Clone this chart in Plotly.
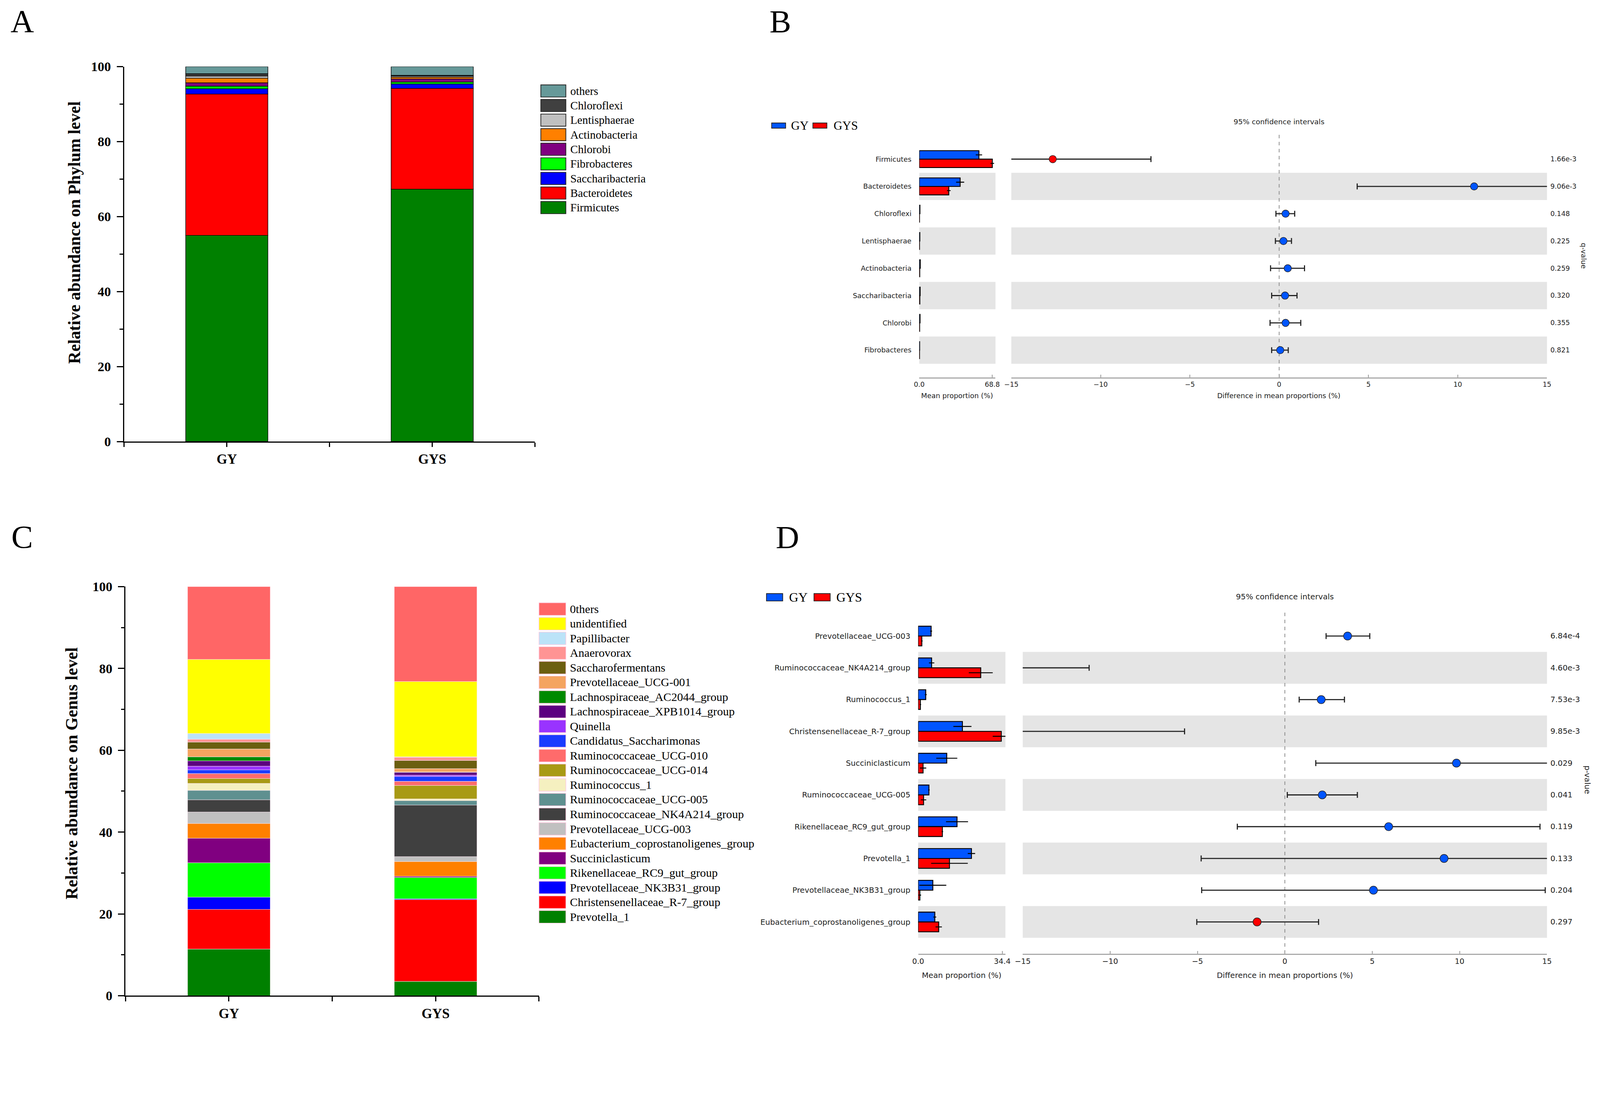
import numpy as np
import plotly.graph_objects as go

# reference picture size; the page is laid out in CSS px that come out ~6% bigger
W, H = 4346, 2800
S = 4096 / 4346
FW, FH = round(W * S) - 16, round(H * S) - 16
SERIF = "Liberation Serif"
SANS = "DejaVu Sans"
BLUE = "#0055ff"
RED = "#ff0000"

groups = ["GY", "GYS"]

# A: phylum level, bottom of the stack first
phylum_names = ["Firmicutes", "Bacteroidetes", "Saccharibacteria", "Fibrobacteres",
                "Chlorobi", "Actinobacteria", "Lentisphaerae", "Chloroflexi", "others"]
phylum_gy = [55.0, 37.7, 1.4, 0.7, 0.9, 1.2, 0.6, 0.6, 1.9]
phylum_gys = [67.3, 26.9, 1.2, 0.5, 0.8, 0.5, 0.3, 0.2, 2.3]
phylum_colors = ["#008000", "#ff0000", "#0000ff", "#00ff00", "#800080",
                 "#ff8000", "#c0c0c0", "#404040", "#669999"]

# C: genus level, bottom of the stack first
genus_names = ["Prevotella_1", "Christensenellaceae_R-7_group", "Prevotellaceae_NK3B31_group",
               "Rikenellaceae_RC9_gut_group", "Succiniclasticum", "Eubacterium_coprostanoligenes_group",
               "Prevotellaceae_UCG-003", "Ruminococcaceae_NK4A214_group", "Ruminococcaceae_UCG-005",
               "Ruminococcus_1", "Ruminococcaceae_UCG-014", "Ruminococcaceae_UCG-010",
               "Candidatus_Saccharimonas", "Quinella", "Lachnospiraceae_XPB1014_group",
               "Lachnospiraceae_AC2044_group", "Prevotellaceae_UCG-001", "Saccharofermentans",
               "Anaerovorax", "Papillibacter", "unidentified", "0thers"]
genus_gy = [11.4, 9.7, 3.0, 8.4, 6.0, 3.6, 2.8, 3.0, 2.3, 1.7, 1.2, 1.2,
            0.9, 0.9, 1.3, 1.0, 1.9, 1.7, 0.7, 1.4, 18.1, 17.8]
genus_gys = [3.5, 20.0, 0.2, 5.2, 0.3, 3.6, 1.2, 12.6, 1.1, 0.4, 3.3, 1.0,
             1.2, 0.3, 0.7, 0.1, 0.8, 2.0, 0.8, 0.1, 18.4, 23.2]
genus_colors = ["#008000", "#ff0000", "#0000ff", "#00ff00", "#800080", "#ff8000",
                "#c0c0c0", "#404040", "#5f9090", "#f5f0c0", "#a89a14", "#ff6b6b",
                "#1a3cff", "#9933ff", "#5c0080", "#008a00", "#f4a460", "#6b5f10",
                "#ff9494", "#bbe3f8", "#ffff00", "#ff6666"]

# B: STAMP test, phylum
b_taxa = ["Firmicutes", "Bacteroidetes", "Chloroflexi", "Lentisphaerae",
          "Actinobacteria", "Saccharibacteria", "Chlorobi", "Fibrobacteres"]
b_mean_gy = [56.2, 38.5, 0.6, 0.5, 0.9, 0.8, 0.7, 0.3]
b_err_gy = [3.0, 3.8, 0.1, 0.1, 0.2, 0.1, 0.1, 0.1]
b_mean_gys = [68.8, 27.8, 0.2, 0.2, 0.4, 0.5, 0.3, 0.2]
b_err_gys = [1.7, 1.7, 0.1, 0.1, 0.1, 0.1, 0.1, 0.1]
b_diff = [-12.68, 10.92, 0.36, 0.24, 0.48, 0.33, 0.36, 0.06]
b_ci_low = [-18.2, 4.37, -0.18, -0.21, -0.48, -0.42, -0.51, -0.42]
b_ci_high = [-7.18, 17.5, 0.87, 0.69, 1.42, 1.00, 1.21, 0.51]
b_qvalue = ["1.66e-3", "9.06e-3", "0.148", "0.225", "0.259", "0.320", "0.355", "0.821"]
b_mean_max = 68.8

# D: STAMP test, genus
d_taxa = ["Prevotellaceae_UCG-003", "Ruminococcaceae_NK4A214_group", "Ruminococcus_1",
          "Christensenellaceae_R-7_group", "Succiniclasticum", "Ruminococcaceae_UCG-005",
          "Rikenellaceae_RC9_gut_group", "Prevotella_1", "Prevotellaceae_NK3B31_group",
          "Eubacterium_coprostanoligenes_group"]
d_mean_gy = [5.3, 5.5, 3.1, 18.1, 11.7, 4.4, 15.9, 21.8, 6.0, 6.8]
d_err_gy = [0.4, 1.1, 0.4, 3.7, 4.3, 0.3, 4.5, 1.5, 5.5, 0.6]
d_mean_gys = [1.5, 25.6, 0.9, 34.0, 2.0, 2.2, 9.9, 12.8, 0.7, 8.4]
d_err_gys = [0.3, 4.9, 0.3, 3.5, 1.3, 1.1, 0.3, 7.5, 0.5, 1.3]
d_diff = [3.59, -20.1, 2.08, -15.9, 9.82, 2.14, 5.94, 9.11, 5.07, -1.59]
d_ci_low = [2.36, -29.0, 0.82, -26.1, 1.77, 0.14, -2.72, -4.79, -4.76, -5.04]
d_ci_high = [4.86, -11.2, 3.41, -5.74, 17.9, 4.15, 14.6, 23.0, 14.9, 1.93]
d_pvalue = ["6.84e-4", "4.60e-3", "7.53e-3", "9.85e-3", "0.029", "0.041",
            "0.119", "0.133", "0.204", "0.297"]
d_mean_max = 34.4


def z(v):
    # size in reference pixels -> css pixels
    return v * S


def px(x):
    return (x * S - 8) / FW


def py(y):
    return 1 - (y * S - 8) / FH


fig = go.Figure()
shapes = []
annotations = []


def stacked_bars(names, colors, gy, gys, xa, ya, edge, edgew):
    xpos = np.arange(len(groups))
    base = np.zeros(len(groups))
    for name, col, a, b in zip(names, colors, gy, gys):
        vals = np.array([a, b])
        fig.add_trace(go.Bar(x=xpos, y=vals, base=base.copy(), name=name, width=0.4,
                             marker=dict(color=col, line=dict(color=edge, width=z(edgew))),
                             xaxis=xa, yaxis=ya, showlegend=False))
        base += vals


def box_legend(names, colors, x0, x1, y_first, step, box_h, text_x, size, edge, edgew):
    for i, (name, col) in enumerate(zip(names, colors)):
        yc = y_first + i * step
        shapes.append(dict(type="rect", xref="paper", yref="paper", x0=px(x0), x1=px(x1),
                           y0=py(yc - box_h / 2), y1=py(yc + box_h / 2), fillcolor=col,
                           line=dict(color=edge, width=z(edgew))))
        annotations.append(dict(xref="paper", yref="paper", x=px(text_x), y=py(yc), text=name,
                                xanchor="left", yanchor="middle", showarrow=False,
                                font=dict(family=SERIF, size=z(size), color="black")))


def stamp_panel(taxa, mgy, egy, mgys, egys, diff, lo, hi, pvals, xm, xd, ya, fs, msize):
    for vals, errs, col, off in ((mgy, egy, BLUE, -0.31), (mgys, egys, RED, 0)):
        fig.add_trace(go.Bar(y=taxa, x=vals, orientation="h", width=0.31, offset=off,
                             marker=dict(color=col, line=dict(color="black", width=z(2.5))),
                             error_x=dict(type="data", array=errs, color="black",
                                          thickness=z(2.5), width=0),
                             xaxis=xm, yaxis=ya, showlegend=False))
    diff = np.array(diff)
    fig.add_trace(go.Scatter(y=taxa, x=diff, mode="markers",
                             marker=dict(size=z(msize), color=[BLUE if d > 0 else RED for d in diff],
                                         line=dict(color="#222222", width=z(1.5))),
                             error_x=dict(type="data", symmetric=False, array=np.array(hi) - diff,
                                          arrayminus=diff - np.array(lo), color="#222222",
                                          thickness=z(3), width=z(8)),
                             xaxis=xd, yaxis=ya, showlegend=False))
    for i in range(1, len(taxa), 2):
        for ax in (xm, xd):
            shapes.append(dict(type="rect", xref=ax + " domain", yref=ya, x0=0, x1=1,
                               y0=i - 0.5, y1=i + 0.5, fillcolor="#e5e5e5",
                               line=dict(width=0), layer="below"))
    shapes.append(dict(type="line", xref=xd, yref=ya + " domain", x0=0, x1=0, y0=0, y1=1,
                       line=dict(color="#888888", width=z(2), dash="dash"), layer="below"))
    for t, p in zip(taxa, pvals):
        annotations.append(dict(xref="paper", yref=ya, x=px(4209), y=t, text=p,
                                xanchor="left", yanchor="middle", showarrow=False,
                                font=dict(family=SANS, size=z(fs), color="#222222")))


def group_legend(x_boxes, x_texts, yc, box_h, box_w, size):
    for name, col, bx, tx in zip(groups, [BLUE, RED], x_boxes, x_texts):
        shapes.append(dict(type="rect", xref="paper", yref="paper", x0=px(bx), x1=px(bx + box_w),
                           y0=py(yc - box_h / 2), y1=py(yc + box_h / 2), fillcolor=col,
                           line=dict(color="#222222", width=z(2))))
        annotations.append(dict(xref="paper", yref="paper", x=px(tx), y=py(yc), text=name,
                                xanchor="left", yanchor="middle", showarrow=False,
                                font=dict(family=SERIF, size=z(size), color="black")))


def text(x, y, s, size, family=SANS, angle=0, bold=False, xanchor="center", yanchor="middle"):
    annotations.append(dict(xref="paper", yref="paper", x=px(x), y=py(y), text=s, textangle=angle,
                            xanchor=xanchor, yanchor=yanchor, showarrow=False,
                            font=dict(family=family, size=z(size), color="#222222" if family == SANS else "black",
                                      weight="bold" if bold else "normal")))


# ---- panel A and C: stacked bars
stacked_bars(phylum_names, phylum_colors, phylum_gy, phylum_gys, "x", "y", "black", 1.5)
stacked_bars(genus_names, genus_colors, genus_gy, genus_gys, "x2", "y2", "rgba(255,235,245,0.9)", 1)

box_legend(phylum_names[::-1], phylum_colors[::-1], 1469, 1537, 247, 39.6, 33, 1547, 31, "#222222", 2)
box_legend(genus_names[::-1], genus_colors[::-1], 1464, 1537, 1654, 39.8, 34, 1546, 32, "#ffc8e0", 1.5)

text(201, 631, "Relative abundance on Phylum level", 46, SERIF, -90, True)
text(194, 2100, "Relative abundance on Genus level", 46, SERIF, -90, True)

# ---- panel B and D: STAMP plots
stamp_panel(b_taxa, b_mean_gy, b_err_gy, b_mean_gys, b_err_gys, b_diff, b_ci_low, b_ci_high,
            b_qvalue, "x3", "x4", "y3", 18.5, 20)
stamp_panel(d_taxa, d_mean_gy, d_err_gy, d_mean_gys, d_err_gys, d_diff, d_ci_low, d_ci_high,
            d_pvalue, "x5", "x6", "y5", 21, 22)

group_legend([2096, 2208], [2146, 2262], 341, 14, 38, 33)
group_legend([2082, 2211], [2141, 2270], 1622, 20, 44, 35)

text(3474, 331, "95% confidence intervals", 19.5)
text(2600, 1074, "Mean proportion (%)", 19)
text(3474, 1074, "Difference in mean proportions (%)", 19)
text(4302, 694, "q-value", 19, angle=90)

text(3490, 1621, "95% confidence intervals", 21)
text(2612, 2649, "Mean proportion (%)", 21)
text(3490, 2649, "Difference in mean proportions (%)", 21)
text(4312, 2118, "p-value", 21, angle=90)

# panel letters
text(27, 6, "A", 88, SERIF, xanchor="left", yanchor="top")
text(2088, 7, "B", 88, SERIF, xanchor="left", yanchor="top")
text(29, 1407, "C", 88, SERIF, xanchor="left", yanchor="top")
text(2105, 1408, "D", 88, SERIF, xanchor="left", yanchor="top")


def bar_xaxis(x0, x1, anchor):
    return dict(domain=[px(x0), px(x1)], anchor=anchor, range=[-0.5, len(groups) - 0.5],
                tickvals=[-0.5, 0, 0.5, 1, 1.5], ticktext=["", groups[0], "", groups[1], ""],
                ticks="outside", ticklen=z(12), tickwidth=z(3), tickcolor="black",
                showline=True, linewidth=z(3), linecolor="black", showgrid=False, zeroline=False,
                tickfont=dict(family=SERIF, size=z(37), color="black", weight="bold"),
                ticklabelstandoff=1, automargin=False)


def bar_yaxis(y0, y1, anchor):
    return dict(domain=[py(y0), py(y1)], anchor=anchor, range=[0, 100], dtick=20,
                ticks="outside", ticklen=z(17), tickwidth=z(3), tickcolor="black",
                minor=dict(dtick=10, ticks="outside", ticklen=z(9), tickwidth=z(3), tickcolor="black"),
                showline=True, linewidth=z(3), linecolor="black", showgrid=False, zeroline=False,
                tickfont=dict(family=SERIF, size=z(36), color="black", weight="bold"),
                ticklabelstandoff=round(z(8)), automargin=False)


def stamp_xaxis(x0, x1, anchor, rng, tickvals, fs, ticktext=None):
    ax = dict(domain=[px(x0), px(x1)], anchor=anchor, range=rng, tickvals=tickvals,
              ticks="inside", ticklen=z(8), tickwidth=z(2), tickcolor="#999999",
              showline=True, linewidth=z(3), linecolor="#aaaaaa", showgrid=False, zeroline=False,
              tickfont=dict(family=SANS, size=z(fs), color="#222222"), automargin=False)
    if ticktext is not None:
        ax["ticktext"] = ticktext
    return ax


def stamp_yaxis(y0, y1, anchor, taxa, rng, fs):
    return dict(domain=[py(y0), py(y1)], anchor=anchor, type="category", categoryorder="array",
                categoryarray=taxa, range=rng, ticks="", showline=False, showgrid=False,
                zeroline=False, tickfont=dict(family=SANS, size=z(fs), color="#222222"),
                ticklabelstandoff=round(z(20)), automargin=False)


diff_ticks = [-15, -10, -5, 0, 5, 10, 15]

fig.update_layout(
    width=FW, height=FH,
    margin=dict(l=0, r=0, t=0, b=0),
    paper_bgcolor="white", plot_bgcolor="white",
    barmode="overlay",
    showlegend=False,
    xaxis=bar_xaxis(337, 1453, "y"),
    yaxis=bar_yaxis(1199, 181, "x"),
    xaxis2=bar_xaxis(341, 1464, "y2"),
    yaxis2=bar_yaxis(2704, 1593, "x2"),
    xaxis3=stamp_xaxis(2497, 2704, "y3", [0, 71.8], [0, b_mean_max], 18.5,
                       ["0.0", f"{b_mean_max:.1f}"]),
    xaxis4=stamp_xaxis(2747, 4202, "y3", [-15, 15], diff_ticks, 18.5),
    yaxis3=stamp_yaxis(1025, 358, "x3", b_taxa, [8.0, -1.0], 19),
    xaxis5=stamp_xaxis(2494, 2731, "y5", [0, 35.7], [0, d_mean_max], 20.5,
                       ["0.0", f"{d_mean_max:.1f}"]),
    xaxis6=stamp_xaxis(2778, 4202, "y5", [-15, 15], diff_ticks, 20.5),
    yaxis5=stamp_yaxis(2590, 1660, "x5", d_taxa, [10.0, -0.78], 21),
    shapes=shapes,
    annotations=annotations,
)

fig.write_html("out.html")
